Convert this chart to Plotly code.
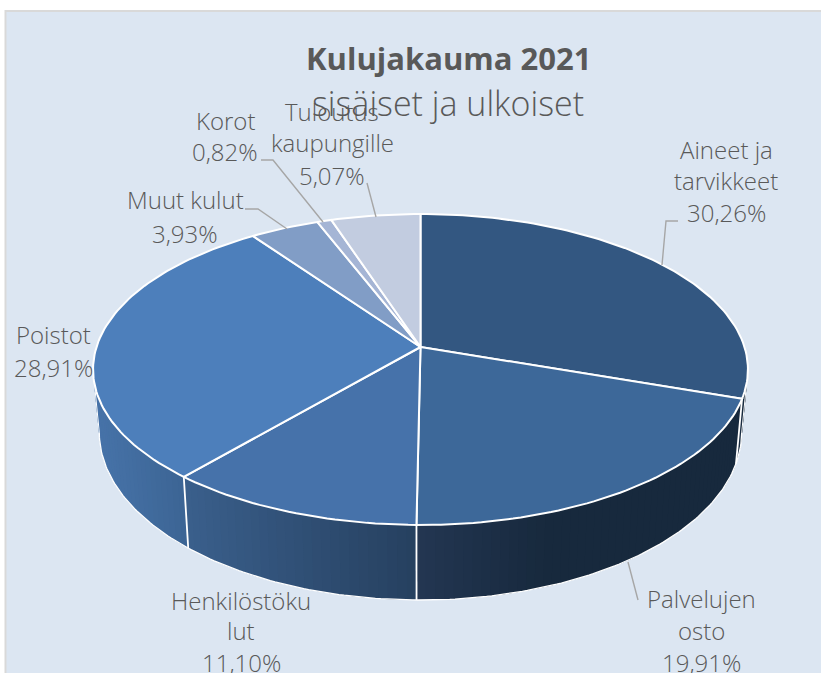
import numpy as np
import plotly.graph_objects as go

# ---- data ----
categories = ["Aineet ja tarvikkeet", "Palvelujen osto", "Henkilöstökulut", "Poistot",
              "Muut kulut", "Korot", "Tuloutus kaupungille"]
shares = [30.26, 19.91, 11.10, 28.91, 3.93, 0.82, 5.07]
percent_labels = ["30,26%", "19,91%", "11,10%", "28,91%", "3,93%", "0,82%", "5,07%"]
title_text = "Kulujakauma 2021"
subtitle_text = "sisäiset ja ulkoiset"

# ---- style / projection ----
TOP_COLORS = ["#335781", "#3D6899", "#4672AA", "#4D7FBB", "#819DC6", "#A5B5D5", "#C2CCE0"]
WALL_STOPS = {0: ("#1A2C40", "#1A2C40"), 1: ("#17293D", "#233752"),
              2: ("#26405F", "#3A5F8C"), 3: ("#3C6594", "#4773A9")}
BG = "#DCE6F2"
X0, Y0, A, B, K = 420.5, 347.0, 324.0, 152.2, 0.1447
S, T, Y1 = 0.981, 1.079, 408.0
TEXT = "#595959"
LEAD = "#A6A6A6"
FONT = "Open Sans"


def top_xy(th):
    u, v = np.sin(th), np.cos(th)
    d = 1 + K * v
    return X0 + A * u / d, Y0 - B * v / d


def bot_xy(th):
    u, v = np.sin(th), np.cos(th)
    d = 1 + K * v
    return X0 + S * A * u / d, Y1 - T * B * v / d


def hex2rgb(h):
    return np.array([int(h[i:i + 2], 16) for i in (1, 3, 5)], float)


def mix(a, b, f):
    c = hex2rgb(a) * (1 - f) + hex2rgb(b) * f
    return "rgb(%d,%d,%d)" % tuple(c.round())


edges = np.cumsum([0] + shares) / sum(shares) * 2 * np.pi
LEFT_TH = 2 * np.pi - np.arccos(-K)
RIGHT_TH = np.arccos(-K)

fig = go.Figure()


def poly(x, y, color, lw=0.0, lc=None):
    fig.add_trace(go.Scatter(x=x, y=y, mode="lines", fill="toself", fillcolor=color,
                             line=dict(color=lc or color, width=lw), hoverinfo="skip",
                             showlegend=False))


def path(x, y, width=1.5, color="white"):
    fig.add_trace(go.Scatter(x=x, y=y, mode="lines", line=dict(color=color, width=width),
                             hoverinfo="skip", showlegend=False))


# side walls, painted as overlapping strips to give the horizontal gradient
for i, (c0, c1) in WALL_STOPS.items():
    a = max(edges[i], RIGHT_TH - 0.02)
    b = min(edges[i + 1], LEFT_TH + 0.02)
    n = max(2, int((b - a) / 0.025))
    grid = np.linspace(a, b, n + 1)
    xa, xb = bot_xy(a)[0], bot_xy(b)[0]
    for j in range(n):
        end = grid[min(j + 2, n)]
        ths = np.linspace(grid[j], end, 4)
        tx, ty = top_xy(ths)
        bx, by = bot_xy(ths)
        f = (bot_xy((grid[j] + grid[j + 1]) / 2)[0] - xa) / (xb - xa)
        f = max(0, (f - 0.6) / 0.4) if i == 1 else f
        poly(np.r_[tx, bx[::-1]], np.r_[ty, by[::-1]], mix(c0, c1, f), lw=0)

# wall outlines
arc = np.linspace(RIGHT_TH, LEFT_TH, 200)
bx, by = bot_xy(arc)
path(bx, by, 1.3)
for th in [edges[1], edges[2], edges[3]]:
    tx, ty = top_xy(th)
    qx, qy = bot_xy(th)
    path([tx, qx], [ty, qy], 1.8)
for th in [RIGHT_TH, LEFT_TH]:
    tx, ty = top_xy(th)
    qx, qy = bot_xy(th)
    path([tx, qx], [ty, qy], 1.0)

# top faces
for i, col in enumerate(TOP_COLORS):
    ths = np.linspace(edges[i], edges[i + 1], max(4, int(shares[i] * 3)))
    tx, ty = top_xy(ths)
    poly(np.r_[X0, tx, X0], np.r_[Y0, ty, Y0], col, lw=2.0, lc="white")

shapes = [
    dict(type="rect", xref="paper", yref="paper", x0=0, x1=1, y0=0, y1=1,
         fillcolor="white", line_width=0, layer="below"),
    dict(type="rect", xref="x", yref="y", x0=5.5, x1=830, y0=11, y1=690,
         fillcolor=BG, line=dict(color="#D9D9D9", width=2), layer="below"),
]
leaders = [
    ([662, 666, 678], [265, 221, 221]),
    ([628, 638], [562, 600]),
    ([245, 258, 287], [209, 209, 229]),
    ([261, 273, 323], [160, 160, 222]),
    ([367, 376], [183, 217]),
]
for lx, ly in leaders:
    path(lx, ly, 1.4, LEAD)

label_lines = [
    (726, [149, 180, 212], ["Aineet ja", "tarvikkeet", percent_labels[0]]),
    (701, [598, 630, 662], ["Palvelujen", "osto", percent_labels[1]]),
    (241, [600, 630, 662], ["Henkilöstöku", "lut", percent_labels[2]]),
    (53, [334, 367], ["Poistot", percent_labels[3]]),
    (185, [199, 233], ["Muut kulut", percent_labels[4]]),
    (225, [120, 151], ["Korot", percent_labels[5]]),
    (332, [111, 142, 175], ["Tuloutus", "kaupungille", percent_labels[6]]),
]
annotations = [
    dict(x=448, y=58, text="<b>%s</b>" % title_text, font=dict(family=FONT, size=31, color=TEXT)),
    dict(x=448, y=103, text=subtitle_text, font=dict(family=FONT, size=34, color=TEXT, weight=300)),
]
for ax, ys, lines in label_lines:
    for ay, line in zip(ys, lines):
        annotations.append(dict(x=ax, y=ay, text=line,
                                font=dict(family=FONT, size=24, color=TEXT, weight=300)))
for an in annotations:
    an.update(xref="x", yref="y", showarrow=False, xanchor="center", yanchor="middle")

fig.update_layout(
    width=821, height=673, margin=dict(l=0, r=0, t=0, b=0), autosize=False,
    paper_bgcolor="white", plot_bgcolor="rgba(0,0,0,0)", showlegend=False,
    xaxis=dict(range=[0, 821], visible=False, fixedrange=True),
    yaxis=dict(range=[673, 0], visible=False, fixedrange=True),
    shapes=shapes, annotations=annotations,
)
fig.write_html("out.html", post_script="document.body.style.margin='0';document.body.style.overflow='hidden';",
               config={"displayModeBar": False})
